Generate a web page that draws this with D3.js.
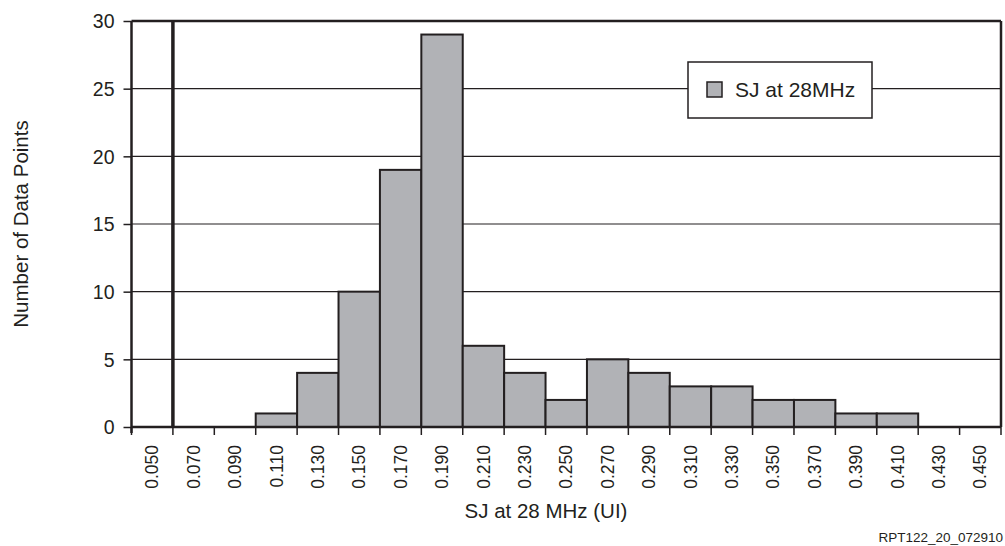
<!DOCTYPE html>
<html>
<head>
<meta charset="utf-8">
<script src="https://cdn.jsdelivr.net/npm/d3@7"></script>
<style>
  body { margin: 0; background: #fff; }
  text { font-family: "Liberation Sans", Arial, sans-serif; fill: #231f20; }
</style>
</head>
<body>
<div id="chart"></div>
<script>
// Data

const bins = ["0.050", "0.070", "0.090", "0.110", "0.130", "0.150", "0.170", "0.190", "0.210", "0.230", "0.250",
  "0.270", "0.290", "0.310", "0.330", "0.350", "0.370", "0.390", "0.410", "0.430", "0.450"];
const counts = [0, 0, 0, 1, 4, 10, 19, 29, 6, 4, 2, 5, 4, 3, 3, 2, 2, 1, 1, 0, 0];
const yTicks = [0, 5, 10, 15, 20, 25, 30];
const markerAfter = "0.050";   // thick vertical line at the right edge of this bin
const seriesName = "SJ at 28MHz";

// Dimensions

const margin = { top: 21, right: 4, bottom: 119, left: 131.5 };
const width = 1005 - margin.left - margin.right;
const height = 546 - margin.top - margin.bottom;
const ink = "#231f20";

const x = d3.scaleBand().domain(bins).range([0, width]).padding(0);
const y = d3.scaleLinear().domain([0, 30]).range([height, 0]);

const svg = d3.select("#chart")
  .append("svg")
    .attr("width", 1005)
    .attr("height", 546)
  .append("g")
    .attr("transform", `translate(${margin.left},${margin.top})`);

// horizontal gridlines
svg.selectAll(".grid")
  .data(yTicks.slice(1))
  .join("line")
  .attr("x1", 0)
  .attr("x2", width)
  .attr("y1", d => y(d))
  .attr("y2", d => y(d))
  .attr("stroke", ink)
  .attr("stroke-width", d => d === 30 ? 2.5 : 1.2);

// bars
svg.selectAll(".bar")
  .data(counts.map((c, i) => ({ bin: bins[i], c })).filter(d => d.c > 0))
  .join("rect")
  .attr("x", d => x(d.bin))
  .attr("y", d => y(d.c))
  .attr("width", x.bandwidth())
  .attr("height", d => y(0) - y(d.c))
  .attr("fill", "#b1b2b6")
  .attr("stroke", ink)
  .attr("stroke-width", 2);

// frame: left and right
[0, width].forEach(px => {
  svg.append("line")
    .attr("x1", px).attr("x2", px)
    .attr("y1", 0).attr("y2", height + (px === 0 ? 6 : 0))
    .attr("stroke", ink).attr("stroke-width", 2.5);
});

// thick marker line
const mx = x(markerAfter) + x.bandwidth();
svg.append("line")
  .attr("x1", mx).attr("x2", mx)
  .attr("y1", 0).attr("y2", height)
  .attr("stroke", ink).attr("stroke-width", 3.5);

// y axis
const yAxis = svg.append("g")
  .call(d3.axisLeft(y).tickValues(yTicks).tickSize(8).tickPadding(9).tickFormat(d3.format("d")));
yAxis.select(".domain").remove();
yAxis.selectAll("line").attr("stroke", ink).attr("stroke-width", 1.5);
yAxis.selectAll("text").attr("font-size", 19.5).attr("fill", ink).attr("dy", "0.35em");

// x axis with ticks at bin boundaries
const xg = svg.append("g").attr("transform", `translate(0,${height})`);
xg.append("line")
  .attr("x1", 0).attr("x2", width)
  .attr("stroke", ink).attr("stroke-width", 2.5);
const edges = bins.map(b => x(b)).concat([width]);
xg.selectAll(".xtick")
  .data(edges)
  .join("line")
  .attr("x1", d => d).attr("x2", d => d)
  .attr("y1", 0).attr("y2", 8)
  .attr("stroke", ink).attr("stroke-width", 1.5);
xg.selectAll(".xlabel")
  .data(bins)
  .join("text")
  .attr("transform", d => `translate(${x(d) + x.bandwidth() / 2},18) rotate(-90)`)
  .attr("text-anchor", "end")
  .attr("dy", "0.35em")
  .attr("font-size", 17.5)
  .text(d => d);

// axis titles
svg.append("text")
  .attr("x", 546 - margin.left)
  .attr("y", 518 - margin.top)
  .attr("text-anchor", "middle")
  .attr("font-size", 20.5)
  .text("SJ at 28 MHz (UI)");

svg.append("text")
  .attr("transform", `translate(${28 - margin.left},${224 - margin.top}) rotate(-90)`)
  .attr("text-anchor", "middle")
  .attr("font-size", 20.5)
  .text("Number of Data Points");

svg.append("text")
  .attr("x", 1003 - margin.left)
  .attr("y", 542 - margin.top)
  .attr("text-anchor", "end")
  .attr("font-size", 13.5)
  .text("RPT122_20_072910");

// legend
const lg = svg.append("g").attr("transform", `translate(${688 - margin.left},${62 - margin.top})`);
lg.append("rect")
  .attr("width", 184).attr("height", 56)
  .attr("fill", "#fff").attr("stroke", ink).attr("stroke-width", 1.5);
lg.append("rect")
  .attr("x", 19).attr("y", 20).attr("width", 15).attr("height", 15)
  .attr("fill", "#b1b2b6").attr("stroke", ink).attr("stroke-width", 1.5);
lg.append("text")
  .attr("x", 47).attr("y", 28)
  .attr("dy", "0.35em")
  .attr("font-size", 21)
  .text(seriesName);
</script>
</body>
</html>
